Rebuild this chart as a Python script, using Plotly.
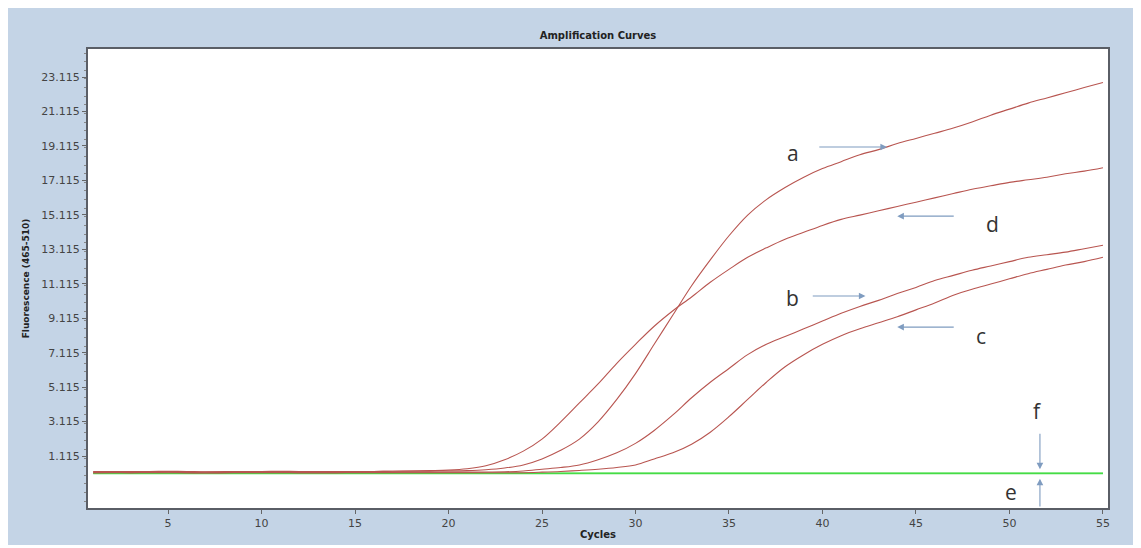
import plotly.graph_objects as go

cycles = list(range(1, 56))

curve_a = [0.22, 0.22, 0.21, 0.22, 0.23, 0.22, 0.2, 0.21, 0.22, 0.22, 0.23, 0.22, 0.22, 0.21, 0.22, 0.22, 0.23, 0.24, 0.24, 0.25,
           0.27, 0.32, 0.42, 0.6, 0.95, 1.45, 2.1, 3.1, 4.4, 5.9, 7.6, 9.3, 11.0, 12.5, 13.9, 15.1, 16.0, 16.7, 17.3, 17.8,
           18.2, 18.6, 18.9, 19.25, 19.55, 19.85, 20.15, 20.5, 20.9, 21.25, 21.6, 21.9, 22.2, 22.5, 22.8]
curve_d = [0.2, 0.21, 0.2, 0.21, 0.22, 0.2, 0.19, 0.2, 0.21, 0.21, 0.22, 0.21, 0.2, 0.21, 0.21, 0.22, 0.23, 0.25, 0.27, 0.3,
           0.38, 0.55, 0.9, 1.4, 2.1, 3.1, 4.2, 5.3, 6.5, 7.6, 8.65, 9.55, 10.35, 11.2, 11.95, 12.65, 13.2, 13.7, 14.1, 14.5,
           14.85, 15.1, 15.35, 15.6, 15.85, 16.1, 16.35, 16.6, 16.8, 17.0, 17.15, 17.3, 17.5, 17.65, 17.85]
curve_b = [0.16, 0.17, 0.16, 0.17, 0.18, 0.16, 0.15, 0.16, 0.17, 0.17, 0.17, 0.16, 0.16, 0.16, 0.17, 0.17, 0.17, 0.18, 0.18, 0.18,
           0.18, 0.19, 0.2, 0.25, 0.35, 0.45, 0.6, 0.9, 1.3, 1.85, 2.6, 3.5, 4.5, 5.4, 6.2, 7.0, 7.6, 8.05, 8.5, 8.95,
           9.4, 9.8, 10.15, 10.55, 10.9, 11.3, 11.6, 11.9, 12.15, 12.4, 12.65, 12.8, 12.95, 13.15, 13.35]
curve_c = [0.14, 0.15, 0.14, 0.15, 0.15, 0.14, 0.13, 0.14, 0.15, 0.15, 0.15, 0.14, 0.14, 0.14, 0.15, 0.15, 0.15, 0.15, 0.15, 0.15,
           0.15, 0.15, 0.15, 0.15, 0.18, 0.22, 0.28, 0.35, 0.45, 0.6, 0.95, 1.3, 1.8, 2.5, 3.4, 4.4, 5.4, 6.3, 7.0, 7.6,
           8.1, 8.5, 8.85, 9.2, 9.6, 10.0, 10.45, 10.8, 11.1, 11.4, 11.7, 11.95, 12.2, 12.4, 12.65]
curve_e = [0.1] * 55
curve_f = [0.12, 0.12, 0.11, 0.12, 0.12, 0.11, 0.1, 0.11, 0.12, 0.12, 0.12, 0.11, 0.11, 0.11, 0.12, 0.12, 0.12, 0.12, 0.12, 0.12,
           0.12, 0.12, 0.12, 0.12, 0.12, 0.12, 0.12, 0.12, 0.12, 0.12, 0.12, 0.12, 0.12, 0.12, 0.12, 0.12, 0.12, 0.12, 0.12, 0.12,
           0.12, 0.12, 0.12, 0.12, 0.12, 0.12, 0.12, 0.12, 0.12, 0.12, 0.12, 0.12, 0.12, 0.12, 0.12]

y_ticks = [1.115, 3.115, 5.115, 7.115, 9.115, 11.115, 13.115, 15.115, 17.115, 19.115, 21.115, 23.115]
y_tick_text = ["1.115", "3.115", "5.115", "7.115", "9.115", "11.115", "13.115", "15.115", "17.115", "19.115", "21.115", "23.115"]
x_ticks = [5, 10, 15, 20, 25, 30, 35, 40, 45, 50, 55]

# label annotations: (text, x, y)
labels = [("a", 38.4, 18.7), ("d", 49.1, 14.6), ("b", 38.4, 10.3), ("c", 48.5, 8.1), ("f", 51.5, 3.75), ("e", 50.1, -1.0)]
# arrows: (head_x, head_y, tail_x, tail_y)
arrows = [(43.45, 19.05, 39.75, 19.05), (44.0, 15.04, 47.1, 15.04), (42.3, 10.4, 39.4, 10.4),
          (44.0, 8.6, 47.1, 8.6), (51.63, 0.35, 51.63, 2.5), (51.63, -0.2, 51.63, -1.9)]

red = "#b85550"
green = "#45dc45"

fig = go.Figure()
for vals in (curve_e, curve_f):
    fig.add_trace(go.Scatter(x=cycles, y=vals, mode="lines", line=dict(color=green, width=1.4),
                             showlegend=False, hoverinfo="skip"))
for vals in (curve_c, curve_b, curve_d, curve_a):
    fig.add_trace(go.Scatter(x=cycles, y=vals, mode="lines", line=dict(color=red, width=1.1, shape="spline"),
                             showlegend=False, hoverinfo="skip"))

annotations = []
for t, x, y in labels:
    annotations.append(dict(x=x, y=y, xref="x", yref="y", text=t, showarrow=False,
                            font=dict(family="Open Sans, DejaVu Sans", size=21, color="#333333")))
for hx, hy, tx, ty in arrows:
    annotations.append(dict(x=hx, y=hy, ax=tx, ay=ty, xref="x", yref="y", axref="x", ayref="y",
                            text="", showarrow=True, arrowhead=2, arrowsize=1.2, arrowwidth=1.1,
                            arrowcolor="#7f9cc0", standoff=0, startstandoff=0))

fig.update_layout(
    width=1133, height=540,
    margin=dict(l=80, r=33, t=41, b=40),
    paper_bgcolor="white",
    plot_bgcolor="white",
    title=dict(text="<b>Amplification Curves</b>", x=0.5, xref="paper", xanchor="center",
               y=0.95, yref="container", yanchor="middle",
               font=dict(family="DejaVu Sans", size=10, color="#222222")),
    annotations=annotations,
    shapes=[
        dict(type="rect", xref="paper", yref="paper", x0=-0.079, x1=1.030, y0=-0.0806, y1=1.098,
             fillcolor="#c4d4e6", line=dict(width=0), layer="below"),
        dict(type="rect", xref="paper", yref="paper", x0=0, x1=1, y0=0, y1=1,
             fillcolor="white", line=dict(width=0), layer="below"),
    ],
)
fig.update_xaxes(range=[0.72, 55.27], tickvals=x_ticks, ticks="outside", ticklen=4, tickcolor="#666666",
                 showgrid=False, zeroline=False, showline=True, linecolor="#5a5e66", linewidth=2, mirror=True,
                 automargin=False,
                 tickfont=dict(family="DejaVu Sans", size=11, color="#444444"),
                 title=dict(text="<b>Cycles</b>", standoff=2, font=dict(family="DejaVu Sans", size=10, color="#222222")))
fig.update_yaxes(range=[-1.9, 24.74], tickvals=y_ticks, ticktext=y_tick_text, ticks="outside", ticklen=4,
                 tickcolor="#666666", showgrid=False, zeroline=False, showline=True, linecolor="#5a5e66",
                 linewidth=2, mirror=True, automargin=False,
                 minor=dict(ticks="outside", ticklen=2, dtick=0.5, tickcolor="#888888", showgrid=False),
                 tickfont=dict(family="DejaVu Sans", size=11, color="#444444"),
                 title=dict(text="<b>Fluorescence (465-510)</b>", standoff=10,
                            font=dict(family="DejaVu Sans", size=9, color="#222222")))

fig.write_html("out.html")
